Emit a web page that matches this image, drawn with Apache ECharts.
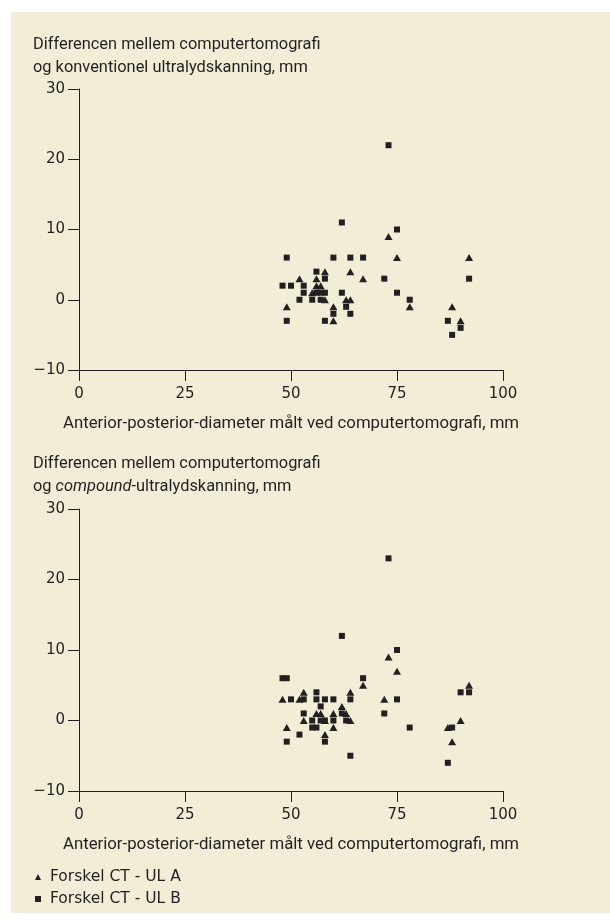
<!DOCTYPE html>
<html><head><meta charset="utf-8">
<script src="https://cdn.jsdelivr.net/npm/echarts@6/dist/echarts.min.js"></script>
<style>html,body{margin:0;padding:0;background:#fff}#c{width:610px;height:924px}</style>
</head><body><div id="c"></div>
<script>
const seriesNames = ['Forskel CT - UL A', 'Forskel CT - UL B'];
const xTicks = [0, 25, 50, 75, 100];
const yTicks = [-10, 0, 10, 20, 30];
const xAxisTitle = 'Anterior-posterior-diameter målt ved computertomografi, mm';
const topYTitle = ['Differencen mellem computertomografi', 'og konventionel ultralydskanning, mm'];
const bottomYTitle = ['Differencen mellem computertomografi', 'og ', 'compound', '-ultralydskanning, mm'];

// Top chart: conventional ultrasound
const topA = [[52,3],[56,3],[56,2],[57,2],[55,1],[58,4],[64,4],[67,3],[58,0],[63,0],[64,0],[49,-1],[60,-1],[60,-3],[73,9],[75,6],[92,6],[78,-1],[88,-1],[90,-3]];
const topB = [[73,22],[62,11],[75,10],[49,6],[60,6],[64,6],[67,6],[56,4],[58,3],[72,3],[92,3],[48,2],[50,2],[53,2],[53,1],[56,1],[57,1],[58,1],[62,1],[75,1],[52,0],[55,0],[57,0],[78,0],[63,-1],[60,-2],[64,-2],[49,-3],[58,-3],[87,-3],[90,-4],[88,-5]];
// Bottom chart: compound ultrasound
const bottomA = [[73,9],[75,7],[67,5],[92,5],[53,4],[64,4],[48,3],[52,3],[72,3],[62,2],[56,1],[57,1],[60,1],[63,1],[53,0],[58,0],[64,0],[90,0],[49,-1],[60,-1],[87,-1],[58,-2],[88,-3]];
const bottomB = [[73,23],[62,12],[75,10],[48,6],[49,6],[67,6],[90,4],[92,4],[56,4],[50,3],[53,3],[56,3],[58,3],[60,3],[64,3],[75,3],[57,2],[53,1],[62,1],[72,1],[55,0],[57,0],[58,0],[60,0],[63,0],[55,-1],[56,-1],[78,-1],[88,-1],[52,-2],[49,-3],[58,-3],[64,-5],[87,-6]];

const INK = '#231f20';
const BG = '#f1edd6';
const titleFont = 'Roboto, "Liberation Sans", sans-serif';
const numFont = '"DejaVu Sans", sans-serif';

function xAxisCfg(gi) {
  return {
    gridIndex: gi, type: 'value',
    min: xTicks[0], max: xTicks[xTicks.length - 1], interval: xTicks[1] - xTicks[0],
    name: xAxisTitle, nameLocation: 'middle', nameGap: 45,
    nameTextStyle: { color: INK, fontFamily: titleFont, fontSize: 16.8 },
    axisLine: { onZero: false, lineStyle: { color: INK, width: 1 } },
    axisTick: { length: 11, lineStyle: { color: INK } },
    axisLabel: { margin: 17, color: INK, fontFamily: numFont, fontSize: 15 },
    splitLine: { show: false }
  };
}
function yAxisCfg(gi) {
  return {
    gridIndex: gi, type: 'value',
    min: yTicks[0], max: yTicks[yTicks.length - 1], interval: yTicks[1] - yTicks[0],
    axisLine: { onZero: false, lineStyle: { color: INK, width: 1 } },
    axisTick: { length: 11, lineStyle: { color: INK } },
    axisLabel: { margin: 14, color: INK, fontFamily: numFont, fontSize: 15,
      formatter: v => String(v).replace('-', '\u2212') },
    splitLine: { show: false }
  };
}
function sc(name, data, gi, symbol, size) {
  return { type: 'scatter', name, xAxisIndex: gi, yAxisIndex: gi, data,
    symbol, symbolSize: size, itemStyle: { color: INK, opacity: 1 },
    emphasis: { disabled: true }, animation: false };
}

const chart = echarts.init(document.getElementById('c'));
chart.setOption({
  animation: false,
  backgroundColor: '#fff',
  graphic: [{ type: 'rect', shape: { x: 11, y: 12, width: 599, height: 901 }, style: { fill: BG }, z: -10, silent: true }],
  title: [
    { left: 33, top: 33, padding: 0,
      text: topYTitle.join('\n'),
      textStyle: { color: INK, fontFamily: titleFont, fontSize: 16.4, fontWeight: 'normal', lineHeight: 23 } },
    { left: 33, top: 452, padding: 0,
      text: '{n|' + bottomYTitle[0] + '}\n{n|' + bottomYTitle[1] + '}{i|' + bottomYTitle[2] + '}{n|' + bottomYTitle[3] + '}',
      textStyle: { color: INK, fontFamily: titleFont, fontSize: 16.4, fontWeight: 'normal', lineHeight: 23,
        rich: {
          n: { color: INK, fontFamily: titleFont, fontSize: 16.4, lineHeight: 23 },
          i: { color: INK, fontFamily: titleFont, fontSize: 16.4, lineHeight: 23, fontStyle: 'italic' }
        } } }
  ],
  legend: {
    orient: 'vertical', left: 35, top: 869, padding: 0, itemGap: 6,
    itemWidth: 6, itemHeight: 6,
    data: [{ name: seriesNames[0], icon: 'triangle' }, { name: seriesNames[1], icon: 'rect' }],
    textStyle: { color: INK, fontFamily: numFont, fontSize: 15.5, padding: [0, 0, 0, 4] },
    selectedMode: false
  },
  grid: [
    { left: 79, top: 89, width: 424, height: 281 },
    { left: 79, top: 509, width: 424, height: 282 }
  ],
  xAxis: [xAxisCfg(0), xAxisCfg(1)],
  yAxis: [yAxisCfg(0), yAxisCfg(1)],
  series: [
    sc(seriesNames[0], topA, 0, 'triangle', [8, 7]),
    sc(seriesNames[1], topB, 0, 'rect', 6),
    sc(seriesNames[0], bottomA, 1, 'triangle', [8, 7]),
    sc(seriesNames[1], bottomB, 1, 'rect', 6)
  ]
});
</script>
</body></html>
